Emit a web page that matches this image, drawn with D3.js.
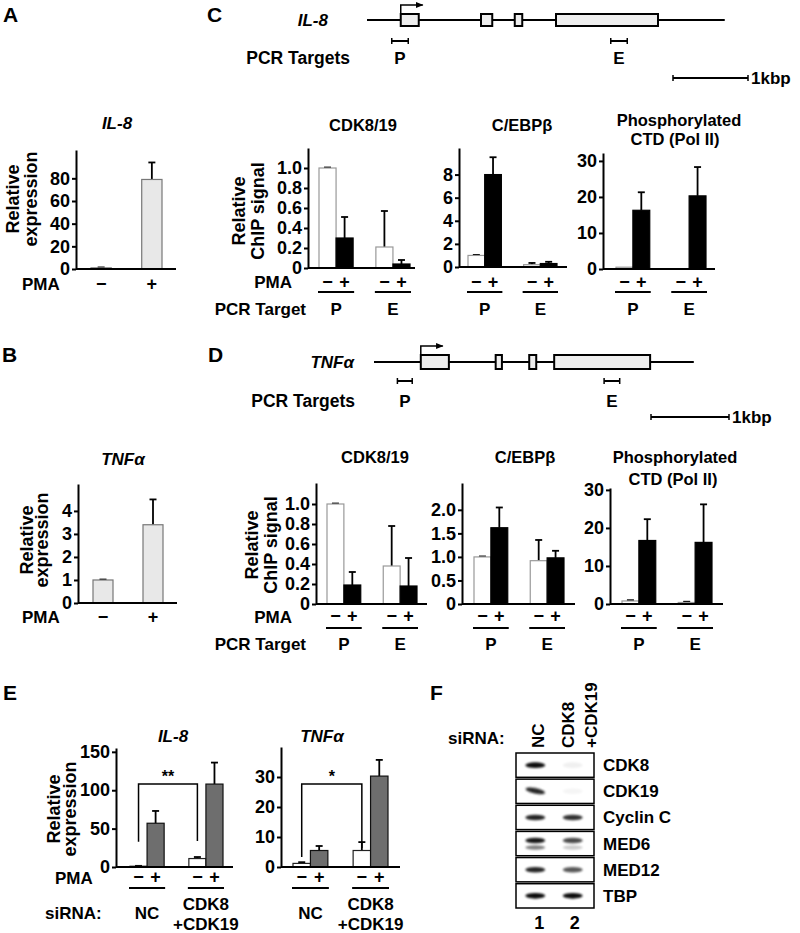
<!DOCTYPE html>
<html><head><meta charset="utf-8">
<script src="https://cdn.jsdelivr.net/npm/d3@7"></script>
<style>
body{margin:0;background:#fff;}
svg text{font-family:"Liberation Sans",Arial,Helvetica,sans-serif;font-weight:bold;fill:#000;}
</style></head><body>
<svg id="fig" width="800" height="933"></svg>
<script>
// ---------------- DATA ----------------
const pmaLevels = ["−", "+"];
const chipTargets = ["P", "E"];
const siRNAGroups = ["NC", "CDK8+CDK19"];

// Panel A (IL-8 expression)
const aValues = [1, 79];
const aErrors = [0.4, 15];
const aTicks = [0, 20, 40, 60, 80];
// Panel B (TNFa expression)
const bValues = [1, 3.4];
const bErrors = [0.02, 1.1];
const bTicks = [0, 1, 2, 3, 4];

// Panel C (IL-8 ChIP) [target][pma]
const cCdkValues = [[1.00, 0.30], [0.21, 0.04]];
const cCdkErrors = [[0.005, 0.21], [0.36, 0.04]];
const cCebpValues = [[1.0, 8.0], [0.2, 0.3]];
const cCebpErrors = [[0.05, 1.5], [0.15, 0.15]];
const cPolValues = [[0.5, 16.3], [0, 20.3]];
const cPolErrors = [[0, 5.0], [0, 8.0]];
// Panel D (TNFa ChIP)
const dCdkValues = [[1.00, 0.19], [0.38, 0.18]];
const dCdkErrors = [[0.005, 0.13], [0.40, 0.28]];
const dCebpValues = [[1.0, 1.62], [0.92, 0.98]];
const dCebpErrors = [[0.01, 0.43], [0.44, 0.15]];
const dPolValues = [[0.8, 16.7], [0.4, 16.2]];
const dPolErrors = [[0.2, 5.6], [0.2, 10.0]];
const chipCdkTicks = [0, 0.2, 0.4, 0.6, 0.8, 1.0];
const cCebpTicks = [0, 2, 4, 6, 8];
const dCebpTicks = [0, 0.5, 1.0, 1.5, 2.0];
const polTicks = [0, 10, 20, 30];

// Panel E (knockdown) [siRNA][pma]
const eIL8Values = [[1, 57], [11, 108]];
const eIL8Errors = [[0.5, 16], [2, 28]];
const eTNFValues = [[1.2, 5.5], [5.5, 30.3]];
const eTNFErrors = [[0.4, 1.5], [2.8, 5.4]];
const eIL8Ticks = [0, 50, 100, 150];
const eTNFTicks = [0, 10, 20, 30];
const eIL8Signif = {top: 108, leftBottom: 33, rightBottom: 34, mark: "**"};
const eTNFSignif = {top: 27.7, leftBottom: 3.3, rightBottom: 6.3, mark: "*"};

// Gene structures (kb)
const il8Length = 4.77;
const il8Exons = [[0.45, 0.69], [1.52, 1.67], [1.97, 2.07], [2.52, 3.88]];
const il8Primers = [[0.33, 0.55], [3.25, 3.47]];
const tnfLength = 4.10;
const tnfExons = [[0.60, 0.96], [1.56, 1.64], [1.99, 2.08], [2.31, 3.54]];
const tnfPrimers = [[0.30, 0.49], [2.95, 3.15]];

// Panel F (western blot)
const blotProteins = ["CDK8", "CDK19", "Cyclin C", "MED6", "MED12", "TBP"];
const blotLanes = ["1", "2"];
const blotIntensity = [[0.95, 0.06], [0.85, 0.04], [0.85, 0.8], [0.9, 0.7], [0.85, 0.65], [0.95, 0.95]];
const blotLowerBand = [[0, 0], [0, 0], [0, 0], [0.5, 0.2], [0, 0], [0, 0]];

// ---------------- DRAWING ----------------
const svg = d3.select("#fig");
const defs = svg.append("defs");
defs.append("filter").attr("id", "blur").attr("x", "-50%").attr("y", "-100%").attr("width", "200%").attr("height", "300%")
  .append("feGaussianBlur").attr("stdDeviation", 1.3);
defs.append("marker").attr("id", "arrow").attr("viewBox", "0 0 10 10").attr("refX", 9).attr("refY", 5)
  .attr("markerWidth", 5).attr("markerHeight", 5).attr("orient", "auto")
  .append("path").attr("d", "M0,1L10,5L0,9Z").attr("fill", "#000");

function txt(x, y, s, size, anchor, italic) {
  const t = svg.append("text").attr("x", x).attr("y", y).attr("font-size", size)
    .attr("text-anchor", anchor || "start").text(s);
  if (italic) t.attr("font-style", "italic");
  return t;
}
function vtxt(xb, yc, s, size) {
  return svg.append("text").attr("transform", `translate(${xb},${yc}) rotate(-90)`)
    .attr("text-anchor", "middle").attr("font-size", size).text(s);
}
function hline(x1, x2, y, w) {
  svg.append("line").attr("x1", x1).attr("x2", x2).attr("y1", y).attr("y2", y)
    .attr("stroke", "#000").attr("stroke-width", w || 2);
}

const styles = {
  light: [{fill: "#e8e8e8", stroke: "#777"}, {fill: "#e8e8e8", stroke: "#777"}],
  chip: [{fill: "#fff", stroke: "#999"}, {fill: "#000", stroke: "#000"}],
  kd: [{fill: "#fff", stroke: "#222"}, {fill: "#6e6e6e", stroke: "#111"}]
};

function barChart(c) {
  const g = svg.append("g");
  const y = d3.scaleLinear().domain([0, c.yMax]).range([c.y0, c.yTop]);
  const gx = d3.scaleBand().domain(c.groups).range(c.barRange).paddingInner(c.groupPad || 0).paddingOuter(0);
  const ix = d3.scaleBand().domain(c.inner).range([0, gx.bandwidth()]).paddingInner(c.innerPad || 0);
  const rows = [];
  c.groups.forEach((grp, gi) => c.inner.forEach((lv, li) =>
    rows.push({grp, lv, li, v: c.values[gi][li], e: c.errors[gi][li]})));
  const st = styles[c.style];
  // error bars
  rows.filter(r => r.e > 0).forEach(r => {
    const cx = gx(r.grp) + ix(r.lv) + ix.bandwidth() / 2;
    g.append("line").attr("x1", cx).attr("x2", cx).attr("y1", y(r.v)).attr("y2", y(r.v + r.e))
      .attr("stroke", "#000").attr("stroke-width", 1.8);
    g.append("line").attr("x1", cx - 3.5).attr("x2", cx + 3.5).attr("y1", y(r.v + r.e)).attr("y2", y(r.v + r.e))
      .attr("stroke", "#000").attr("stroke-width", 1.8);
  });
  g.selectAll("rect.bar").data(rows.filter(r => r.v > 0)).join("rect")
    .attr("x", r => gx(r.grp) + ix(r.lv)).attr("width", ix.bandwidth())
    .attr("y", r => y(r.v)).attr("height", r => c.y0 - y(r.v))
    .attr("fill", r => st[r.li].fill).attr("stroke", r => st[r.li].stroke).attr("stroke-width", 1.2);
  // axes
  const ax = d3.axisLeft(y).tickValues(c.ticks).tickSize(4).tickSizeOuter(0).tickPadding(2)
    .tickFormat(c.fmt || d3.format("d"));
  const ag = g.append("g").attr("transform", `translate(${c.axisX},0)`).call(ax);
  ag.select(".domain").attr("stroke-width", 2);
  ag.selectAll(".tick line").attr("stroke-width", 2);
  ag.selectAll(".tick text").attr("font-size", c.tickSize || 18)
    .style("font-family", '"Liberation Sans",Arial,sans-serif').style("font-weight", "bold");
  ag.attr("font-size", null).attr("font-family", null);
  g.append("line").attr("x1", c.axisX).attr("x2", c.xEnd).attr("y1", c.y0).attr("y2", c.y0)
    .attr("stroke", "#000").attr("stroke-width", 2);
  // labels under bars
  if (c.pmaY) {
    rows.forEach(r => {
      const cx = gx(r.grp) + ix(r.lv) + ix.bandwidth() / 2;
      txt(cx, c.pmaY, r.lv, 18, "middle");
    });
  }
  if (c.lineY) {
    c.groups.forEach(grp => hline(gx(grp) - 1, gx(grp) + gx.bandwidth() + 1, c.lineY, 2));
  }
  if (c.groupY) {
    c.groups.forEach(grp => {
      const cx = gx(grp) + gx.bandwidth() / 2;
      if (grp === "CDK8+CDK19") {
        txt(cx, c.groupY - 9, "CDK8", 17, "middle");
        txt(cx, c.groupY + 11, "+CDK19", 17, "middle");
      } else {
        txt(cx, c.groupY, grp, 17, "middle");
      }
    });
  }
  if (c.signif) {
    const s = c.signif;
    const x1 = gx(c.groups[0]) + ix(c.inner[0]) + ix.bandwidth() / 2;
    const x2 = gx(c.groups[1]) + ix(c.inner[0]) + ix.bandwidth() / 2;
    g.append("path").attr("d", `M${x1},${y(s.leftBottom)}V${y(s.top)}H${x2}V${y(s.rightBottom)}`)
      .attr("fill", "none").attr("stroke", "#000").attr("stroke-width", 1.5);
    txt((x1 + x2) / 2, y(s.top) - 2, s.mark, 16, "middle");
  }
  return {y, gx, ix};
}

const fmt1 = d => d === 0 ? "0" : d3.format(".1f")(d);

// ---- Panel letters
txt(3, 22, "A", 21); txt(2, 362, "B", 21); txt(207, 22, "C", 21); txt(208, 362, "D", 21);
txt(3, 700, "E", 21); txt(430, 700, "F", 21);

// ---- Panel A
txt(117, 129, "IL-8", 17, "middle", true);
vtxt(19, 199, "Relative", 18); vtxt(37, 199, "expression", 18);
barChart({axisX: 76, xEnd: 176, yTop: 150, y0: 269, yMax: 105, ticks: aTicks, barRange: [91, 162],
  groups: [""], inner: pmaLevels, innerPad: 0.6, values: [aValues], errors: [aErrors], style: "light", pmaY: 290});
txt(22, 290, "PMA", 17);

// ---- Panel B
txt(123, 465, "TNFα", 17, "middle", true);
vtxt(33, 540, "Relative", 18); vtxt(48, 540, "expression", 18);
barChart({axisX: 78, xEnd: 177, yTop: 484, y0: 603, yMax: 5.17, ticks: bTicks, barRange: [93, 163],
  groups: [""], inner: pmaLevels, innerPad: 0.6, values: [bValues], errors: [bErrors], style: "light", pmaY: 623});
txt(22, 623, "PMA", 17);

// ---- Gene diagrams
function gene(name, nameX, lineY, startX, pxPerKb, len, exons, primers, boxH, primerY, labelY, barX, barY) {
  const k = d3.scaleLinear().domain([0, len]).range([startX, startX + pxPerKb * len]);
  txt(nameX, lineY + 6, name, 17, "end", true);
  hline(k(0), k(len), lineY, 2);
  svg.selectAll(null).data(exons).join("rect").attr("class", "exon")
    .attr("x", d => k(d[0])).attr("width", d => k(d[1]) - k(d[0]))
    .attr("y", lineY - boxH / 2).attr("height", boxH)
    .attr("fill", "#eee").attr("stroke", "#000").attr("stroke-width", 2);
  const ax0 = k(exons[0][0]);
  svg.append("path").attr("d", `M${ax0},${lineY - boxH / 2}V${lineY - boxH / 2 - 9}H${ax0 + 22}`)
    .attr("fill", "none").attr("stroke", "#000").attr("stroke-width", 1.5).attr("marker-end", "url(#arrow)");
  primers.forEach((p, i) => {
    hline(k(p[0]), k(p[1]), primerY, 2);
    [p[0], p[1]].forEach(e => svg.append("line").attr("x1", k(e)).attr("x2", k(e))
      .attr("y1", primerY - 3).attr("y2", primerY + 3).attr("stroke", "#000").attr("stroke-width", 1.5));
    txt((k(p[0]) + k(p[1])) / 2, labelY, chipTargets[i], 17, "middle");
  });
  const w = k(1) - k(0);
  hline(barX, barX + w, barY, 2);
  [barX, barX + w].forEach(e => svg.append("line").attr("x1", e).attr("x2", e)
    .attr("y1", barY - 3).attr("y2", barY + 3).attr("stroke", "#000").attr("stroke-width", 1.5));
  txt(barX + w + 3, barY + 6, "1kbp", 17);
}
gene("IL-8", 328, 20, 367, 75, il8Length, il8Exons, il8Primers, 12, 41, 64, 673, 78);
txt(350, 64, "PCR Targets", 17.5, "end");
gene("TNFα", 354, 362, 374, 78, tnfLength, tnfExons, tnfPrimers, 14, 381, 407, 651, 417);
txt(355, 407, "PCR Targets", 17.5, "end");

// ---- Panel C
txt(363, 131, "CDK8/19", 16.5, "middle");
txt(522, 131, "C/EBPβ", 16.5, "middle");
txt(679, 126, "Phosphorylated", 16.5, "middle");
txt(675, 145, "CTD (Pol II)", 16.5, "middle");
vtxt(245, 211, "Relative", 18); vtxt(264, 211, "ChIP signal", 18);
const chipC = {pmaY: 288, lineY: 292, groupY: 315, groups: chipTargets, inner: pmaLevels, style: "chip", groupPad: 0.4};
barChart(Object.assign({}, chipC, {axisX: 308, xEnd: 415, yTop: 148, y0: 268, yMax: 1.2, ticks: chipCdkTicks, fmt: fmt1,
  barRange: [319, 410], values: cCdkValues, errors: cCdkErrors}));
barChart(Object.assign({}, chipC, {axisX: 459, xEnd: 567, yTop: 148, y0: 267, yMax: 10.3, ticks: cCebpTicks,
  barRange: [468, 557], values: cCebpValues, errors: cCebpErrors}));
barChart(Object.assign({}, chipC, {axisX: 603, xEnd: 715, yTop: 153, y0: 269, yMax: 32.2, ticks: polTicks,
  barRange: [616, 706], values: cPolValues, errors: cPolErrors}));
txt(292, 288, "PMA", 17, "end");
txt(306, 315, "PCR Target", 17, "end");

// ---- Panel D
txt(375, 463, "CDK8/19", 16.5, "middle");
txt(525, 463, "C/EBPβ", 16.5, "middle");
txt(675, 463, "Phosphorylated", 16.5, "middle");
txt(673, 485, "CTD (Pol II)", 16.5, "middle");
vtxt(258, 545, "Relative", 18); vtxt(277, 545, "ChIP signal", 18);
const chipD = {pmaY: 622, lineY: 628, groupY: 650, groups: chipTargets, inner: pmaLevels, style: "chip", groupPad: 0.4};
barChart(Object.assign({}, chipD, {axisX: 316, xEnd: 427, yTop: 483, y0: 604, yMax: 1.21, ticks: chipCdkTicks, fmt: fmt1,
  barRange: [327, 417], values: dCdkValues, errors: dCdkErrors}));
barChart(Object.assign({}, chipD, {axisX: 462, xEnd: 575, yTop: 483, y0: 604, yMax: 2.57, ticks: dCebpTicks, fmt: fmt1,
  barRange: [474, 564], values: dCebpValues, errors: dCebpErrors}));
barChart(Object.assign({}, chipD, {axisX: 610, xEnd: 723, yTop: 488, y0: 604, yMax: 30.5, ticks: polTicks,
  barRange: [622, 712], values: dPolValues, errors: dPolErrors}));
txt(292, 623, "PMA", 17, "end");
txt(306, 650, "PCR Target", 17, "end");

// ---- Panel E
txt(173, 742, "IL-8", 17, "middle", true);
txt(322, 742, "TNFα", 17, "middle", true);
vtxt(60, 809, "Relative", 18); vtxt(76, 809, "expression", 18);
const kdE = {pmaY: 883, lineY: 888, groupY: 919, groups: siRNAGroups, inner: pmaLevels, style: "kd", groupPad: 0.42};
barChart(Object.assign({}, kdE, {axisX: 116, xEnd: 233, yTop: 748, y0: 867, yMax: 155, ticks: eIL8Ticks,
  barRange: [130, 223], values: eIL8Values, errors: eIL8Errors, signif: eIL8Signif}));
barChart(Object.assign({}, kdE, {axisX: 281, xEnd: 400, yTop: 747, y0: 867, yMax: 40, ticks: eTNFTicks,
  barRange: [293, 388], values: eTNFValues, errors: eTNFErrors, signif: eTNFSignif}));
txt(55, 884, "PMA", 17);
txt(45, 919, "siRNA:", 17);

// ---- Panel F (western blot)
txt(448, 744, "siRNA:", 17);
svg.append("text").attr("transform", "translate(544,748) rotate(-90)").attr("font-size", 17).text("NC");
svg.append("text").attr("transform", "translate(574,748) rotate(-90)").attr("font-size", 17).text("CDK8");
svg.append("text").attr("transform", "translate(597,748) rotate(-90)").attr("font-size", 17).text("+CDK19");
const rowY = d3.scaleBand().domain(blotProteins).range([753, 908]).paddingInner(0.07);
const laneX = d3.scalePoint().domain(blotLanes).range([516, 594]).padding(0.6);
blotProteins.forEach((p, i) => {
  const y0 = rowY(p), h = rowY.bandwidth();
  svg.append("rect").attr("x", 516).attr("y", y0).attr("width", 78).attr("height", h)
    .attr("fill", "#fff").attr("stroke", "#000").attr("stroke-width", 1.5);
  const hasLower = blotLowerBand[i].some(v => v > 0);
  blotLanes.forEach((l, li) => {
    const cy = y0 + h / 2 - (hasLower ? 3 : 0);
    svg.append("ellipse").attr("cx", laneX(l) - (li === 0 ? 2 : 0)).attr("cy", cy)
      .attr("rx", 10).attr("ry", 2.8).attr("fill", "#000").attr("opacity", blotIntensity[i][li])
      .attr("filter", "url(#blur)")
      .attr("transform", p === "CDK19" && li === 0 ? `rotate(12,${laneX(l)},${cy})` : null);
    if (blotLowerBand[i][li] > 0) {
      svg.append("ellipse").attr("cx", laneX(l) - (li === 0 ? 2 : 0)).attr("cy", cy + 7)
        .attr("rx", 10).attr("ry", 2.2).attr("fill", "#000").attr("opacity", blotLowerBand[i][li])
        .attr("filter", "url(#blur)");
    }
  });
  txt(603, y0 + h / 2 + 6, p, 17);
});
blotLanes.forEach(l => txt(laneX(l) + 2, 929, l, 18, "middle"));
</script>
</body></html>
